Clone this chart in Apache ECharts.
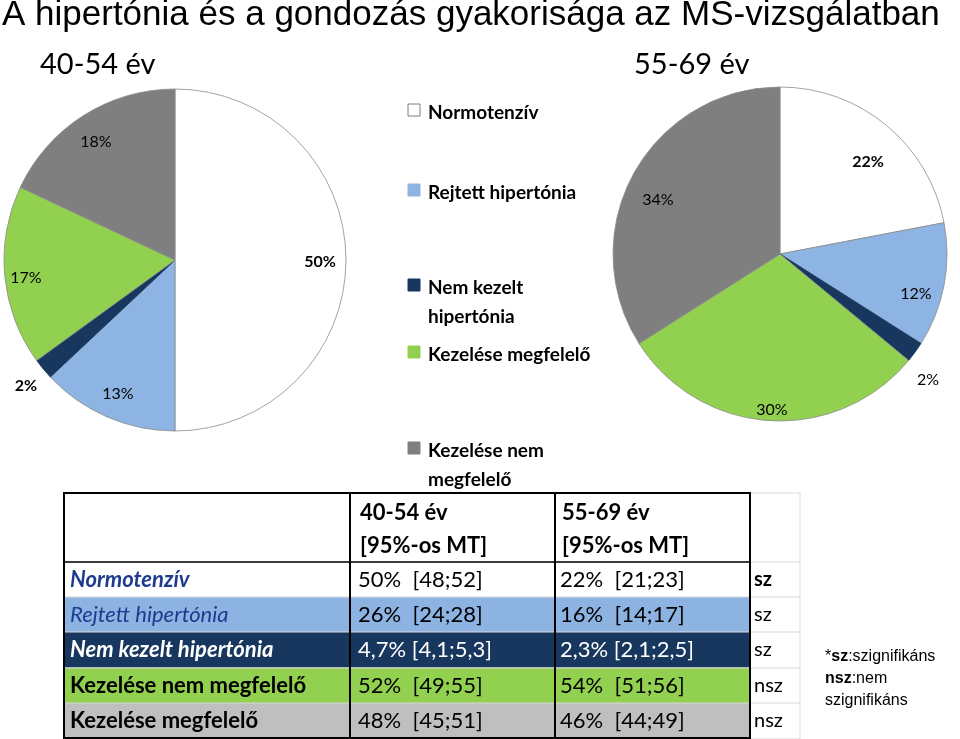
<!DOCTYPE html>
<html><head><meta charset="utf-8">
<script src="https://cdn.jsdelivr.net/npm/echarts@6/dist/echarts.min.js"></script>
<style>html,body{margin:0;padding:0;background:#fff}#c{width:960px;height:739px}</style>
</head><body><div id="c"></div>
<script>
const categories = ['Normotenzív','Rejtett hipertónia','Nem kezelt hipertónia','Kezelése megfelelő','Kezelése nem megfelelő'];
const legendLabels = ['Normotenzív','Rejtett hipertónia','Nem kezelt\nhipertónia','Kezelése megfelelő','Kezelése nem\nmegfelelő'];
const colors = ['#ffffff','#8eb4e3','#17375e','#92d050','#7f7f7f'];
const values4054 = [50,13,2,17,18];
const values5569 = [22,12,2,30,34];
const tableRows = ['Normotenzív','Rejtett hipertónia','Nem kezelt hipertónia','Kezelése nem megfelelő','Kezelése megfelelő'];
const col4054 = ['50%  [48;52]','26%  [24;28]','4,7% [4,1;5,3]','52%  [49;55]','48%  [45;51]'];
const col5569 = ['22%  [21;23]','16%  [14;17]','2,3% [2,1;2,5]','54%  [51;56]','46%  [44;49]'];
const sig = ['sz','sz','sz','nsz','nsz'];

const chart = echarts.init(document.getElementById('c'));
function pie(vals, center, r){
  return {type:'pie', center:center, radius:r, startAngle:90, clockwise:true, animation:false, z:1,
    label:{show:false}, labelLine:{show:false}, silent:true,
    itemStyle:{borderColor:'#8a8a8a', borderWidth:0.8},
    data: vals.map((v,i)=>({name:categories[i], value:v, itemStyle:{color:colors[i], borderColor: i===2?'#17375e':'#8a8a8a'}}))};
}
const g = [];
const F = 'Lato, "Open Sans", sans-serif';
g.push({type:'text', left:2, top:-2, z:100, style:{text:'A hipertónia és a gondozás gyakorisága az MS-vizsgálatban', font:'35px "Liberation Sans", Arial', fill:'#000'}});
g.push({type:'text', left:40, top:50, z:100, style:{text:'40-54 év', font:'29px '+F, fill:'#000'}});
g.push({type:'text', left:634, top:50, z:100, style:{text:'55-69 év', font:'29px '+F, fill:'#000'}});
const pl = [
 [320,262,'50%',true],[118,394,'13%',false],[26,386,'2%',true],[26,278,'17%',false],[96,142,'18%',false],
 [868,162,'22%',true],[916,294,'12%',false],[928,380,'2%',false],[772,410,'30%',false],[658,200,'34%',false]];
pl.forEach(p=>g.push({type:'text', x:p[0], y:p[1], z:100, style:{text:p[2], font:(p[3]?'bold ':'')+'16px '+F, fill:'#000', align:'center', verticalAlign:'middle'}}));
const ly = [110,190,285,352,448];
legendLabels.forEach((t,i)=>{
  g.push({type:'rect', z:100, shape:{x:408,y:ly[i]-6,width:12,height:12}, style:{fill:colors[i], stroke:i===0?'#7f7f7f':colors[i], lineWidth:1}});
  g.push({type:'text', z:100, x:428, y:ly[i]-12, style:{text:t, font:'bold 19px '+F, fill:'#000', lineHeight:29}});
});
const rowTop=[562,597,632,668,703], rowH=35.5;
const bgs=['#ffffff','#8db3e2','#17375e','#92d050','#bfbfbf'];
const txt=['#1f3b8f','#1f3b8f','#ffffff','#000','#000'];
const nameFont=['bold italic','italic','bold italic','bold','bold'];
const valFill=['#000','#000','#fff','#000','#000'];
g.push({type:'rect', shape:{x:64,y:493,width:736,height:246}, style:{fill:'#fff', stroke:'#d9d9d9', lineWidth:1}});
tableRows.forEach((n,i)=>{
  g.push({type:'rect', shape:{x:64,y:rowTop[i],width:686,height:rowH}, style:{fill:bgs[i]}});
  g.push({type:'line', shape:{x1:64,y1:rowTop[i],x2:800,y2:rowTop[i]}, style:{stroke:'#d9d9d9',lineWidth:1}});
  const cy=rowTop[i]+rowH/2;
  g.push({type:'text', x:70, y:cy, style:{text:n, font:nameFont[i]+' 22px '+F, fill:txt[i], verticalAlign:'middle'}});
  g.push({type:'text', x:358, y:cy, style:{text:col4054[i], font:'22px '+F, fill:valFill[i], verticalAlign:'middle'}});
  g.push({type:'text', x:560, y:cy, style:{text:col5569[i], font:'22px '+F, fill:valFill[i], verticalAlign:'middle'}});
  g.push({type:'text', x:754, y:cy, style:{text:sig[i], font:(i===0?'bold ':'')+'20px '+F, fill:'#000', verticalAlign:'middle'}});
});
g.push({type:'text', x:360, y:496, style:{text:'40-54 év\n[95%-os MT]', font:'bold 22px '+F, fill:'#000', lineHeight:33}});
g.push({type:'text', x:562, y:496, style:{text:'55-69 év\n[95%-os MT]', font:'bold 22px '+F, fill:'#000', lineHeight:33}});
g.push({type:'rect', shape:{x:64,y:493,width:686,height:245}, style:{fill:'none', stroke:'#000', lineWidth:2}});
[350,555].forEach(x=>g.push({type:'line', shape:{x1:x,y1:493,x2:x,y2:738}, style:{stroke:'#000',lineWidth:2}}));
g.push({type:'line', shape:{x1:64,y1:562,x2:750,y2:562}, style:{stroke:'#000',lineWidth:1.5}});
g.push({type:'text', x:825, y:646, style:{text:'*{b|sz}:szignifikáns\n{b|nsz}:nem\nszignifikáns', font:'16px "Liberation Sans", Arial', fill:'#000', lineHeight:22,
  rich:{b:{fontWeight:'bold', fontSize:16, fontFamily:'"Liberation Sans", Arial'}}}});

chart.setOption({animation:false, backgroundColor:'#fff',
  series:[pie(values4054,[175,260],171), pie(values5569,[780,254],167)],
  graphic:g});
</script></body></html>
